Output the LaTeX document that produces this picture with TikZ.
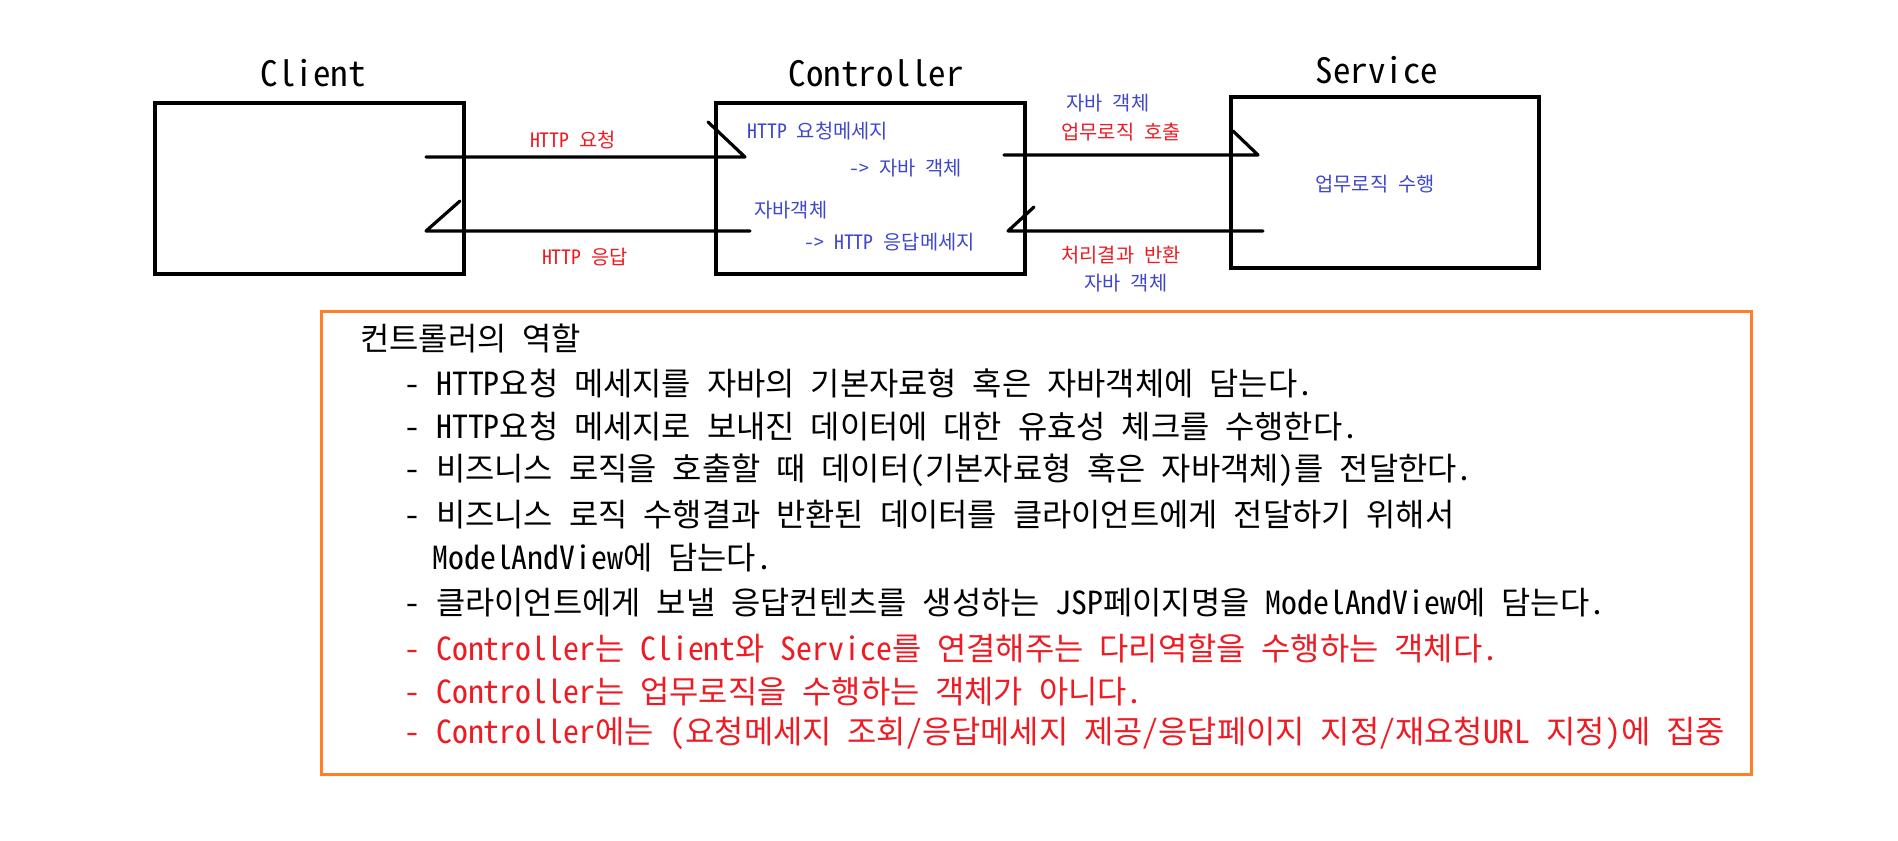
\documentclass[tikz,border=0pt]{standalone}
\usepackage{fontspec}
\IfFontExistsTF{Noto Sans Mono CJK KR}{\newfontfamily\monokr{Noto Sans Mono CJK KR}}{\newfontfamily\monokr{Noto Sans CJK KR}}
\definecolor{pred}{RGB}{237,28,36}
\definecolor{pblue}{RGB}{63,72,204}
\definecolor{porange}{RGB}{255,127,39}
\tikzset{
  box/.style={draw=black, line width=1.6pt, minimum width=154.5pt, minimum height=85.5pt, inner sep=0pt},
  title/.style={font=\monokr\fontsize{17.5}{20}\selectfont, text=black, inner sep=0pt},
  conn/.style={draw=black, line width=1.6pt, line join=round, line cap=round},
  lbl/.style={font=\monokr\fontsize{9.9}{12}\selectfont, inner sep=0pt},
  redl/.style={lbl, text=pred},
  bluel/.style={lbl, text=pblue},
  item/.style={font=\monokr\fontsize{15.9}{18}\selectfont, anchor=west, inner sep=0pt},
  panel/.style={draw=porange, line width=1.5pt, inner sep=0pt}
}
\begin{document}
\begin{tikzpicture}[x=0.5pt,y=-0.5pt]
\useasboundingbox[fill=white] (0,0) rectangle (1898,840);
% titles
\node[title] (tclient) at (313,73) {Client};
\node[title] (tctrl) at (876,73) {Controller};
\node[title] (tsvc) at (1377,70) {Service};
% boxes
\node[box] (client) at (309.5,188.5) {};
\node[box] (ctrl) at (870.5,188.5) {};
\node[box, minimum width=154pt] (svc) at (1385,182.5) {};
% connector points
\coordinate (reqS) at (426,157);
\coordinate (reqT) at (745,157);
\coordinate (reqH) at (708,122);
\coordinate (resS) at (750,231);
\coordinate (resT) at (426,231);
\coordinate (resH) at (460,201);
\coordinate (callS) at (1004,155);
\coordinate (callT) at (1258,155);
\coordinate (callH) at (1233,131);
\coordinate (retS) at (1263,231);
\coordinate (retT) at (1008,231);
\coordinate (retH) at (1034,207);
\draw[conn] (reqS) -- (reqT) -- (reqH);
\draw[conn] (resS) -- (resT) -- (resH);
\draw[conn] (callS) -- (callT) -- (callH);
\draw[conn] (retS) -- (retT) -- (retH);
% labels
\node[redl] (l1) at (573,140) {HTTP 요청};
\node[redl] (l2) at (585,257) {HTTP 응답};
\node[bluel, anchor=west] (l3) at (747,131) {HTTP 요청메세지};
\node[bluel, anchor=west] (l4) at (849,168) {-> 자바 객체};
\node[bluel, anchor=west] (l5) at (754,210) {자바객체};
\node[bluel, anchor=west] (l6) at (804,242) {-> HTTP 응답메세지};
\node[bluel] (l7) at (1108,103) {자바 객체};
\node[redl] (l8) at (1121,132) {업무로직 호출};
\node[redl] (l9) at (1121,255) {처리결과 반환};
\node[bluel] (l10) at (1126,283) {자바 객체};
\node[bluel] (l11) at (1375,184) {업무로직 수행};
% panel
\node[panel, minimum width=715pt, minimum height=231.5pt] (panel) at (1036,542.5) {};
\node[item] (h0) at (360,338) {컨트롤러의 역할};
\node[item] (i1) at (404,383) {- HTTP요청 메세지를 자바의 기본자료형 혹은 자바객체에 담는다.};
\node[item] (i2) at (404,427) {- HTTP요청 메세지로 보내진 데이터에 대한 유효성 체크를 수행한다.};
\node[item] (i3) at (404,470) {- 비즈니스 로직을 호출할 때 데이터(기본자료형 혹은 자바객체)를 전달한다.};
\node[item] (i4) at (404,515) {- 비즈니스 로직 수행결과 반환된 데이터를 클라이언트에게 전달하기 위해서};
\node[item] (i4b) at (432,558) {ModelAndView에 담는다.};
\node[item] (i5) at (404,603) {- 클라이언트에게 보낼 응답컨텐츠를 생성하는 JSP페이지명을 ModelAndView에 담는다.};
\node[item, text=pred] (i6) at (404,648) {- Controller는 Client와 Service를 연결해주는 다리역할을 수행하는 객체다.};
\node[item, text=pred] (i7) at (404,692) {- Controller는 업무로직을 수행하는 객체가 아니다.};
\node[item, text=pred] (i8) at (404,733) {- Controller에는 (요청메세지 조회/응답메세지 제공/응답페이지 지정/재요청URL 지정)에 집중};
\end{tikzpicture}
\end{document}
